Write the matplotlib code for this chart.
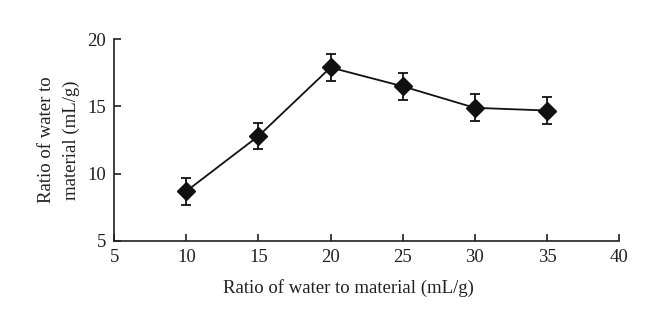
import matplotlib
matplotlib.use("Agg")
import matplotlib.pyplot as plt

# water/material ratio levels and measured response
ratio = [10, 15, 20, 25, 30, 35]
response = [8.7, 12.8, 17.9, 16.5, 14.9, 14.7]
error = [1.0, 1.0, 1.0, 1.0, 1.0, 1.0]

xticks = [5, 10, 15, 20, 25, 30, 35, 40]
yticks = [5, 10, 15, 20]

plt.rcParams['font.family'] = ['Liberation Serif', 'DejaVu Serif']
ink = "#231f20"

fig = plt.figure(figsize=(6.6, 3.3), dpi=100)
ax = fig.add_axes([0.173, 0.270, 0.765, 0.611])

ax.errorbar(ratio, response, yerr=error, color="#111111", marker="D", markersize=9,
            linewidth=1.3, elinewidth=1.3, capsize=3.5, capthick=1.3)

ax.set_xlim(5, 40)
ax.set_ylim(5, 20)
ax.set_xticks(xticks)
ax.set_yticks(yticks)

for side in ["top", "right"]:
    ax.spines[side].set_visible(False)
for side in ["left", "bottom"]:
    ax.spines[side].set_color(ink)
    ax.spines[side].set_linewidth(1.2)

ax.tick_params(direction="in", length=5, width=1.2, color=ink,
               labelsize=13.5, labelcolor=ink)
ax.tick_params(axis="x", pad=6)
ax.tick_params(axis="y", pad=6)

ax.set_xlabel("Ratio of water to material (mL/g)", fontsize=13.5, color=ink)
ax.xaxis.set_label_coords(0.463, -0.19)
ax.set_ylabel("Ratio of water to\nmaterial (mL/g)", fontsize=13.5, color=ink,
              linespacing=1.6)
ax.yaxis.set_label_coords(-0.068, 0.5)

fig.savefig("out.png", dpi=100)
